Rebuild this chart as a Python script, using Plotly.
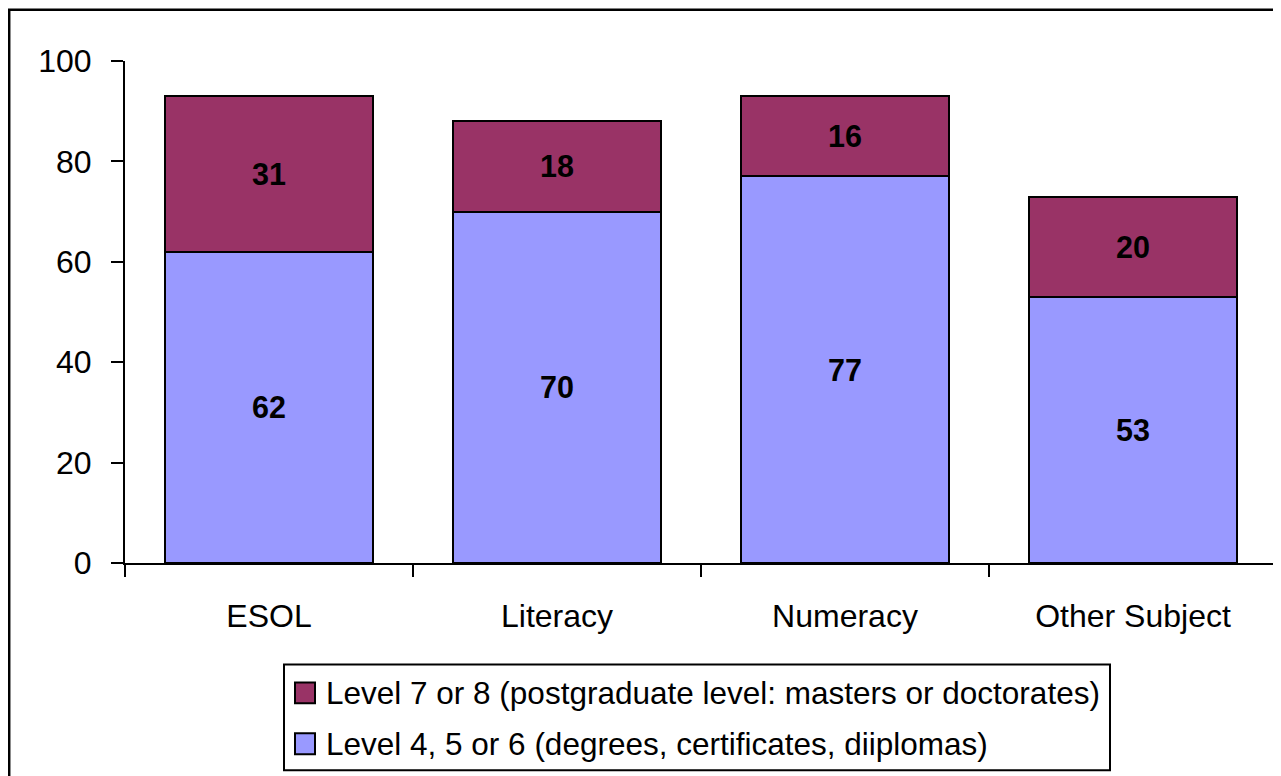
import plotly.graph_objects as go

categories = ["ESOL", "Literacy", "Numeracy", "Other Subject"]
level_4_6 = [62, 70, 77, 53]
level_7_8 = [31, 18, 16, 20]
name_4_6 = "Level 4, 5 or 6 (degrees, certificates, diiplomas)"
name_7_8 = "Level 7 or 8 (postgraduate level: masters or doctorates)"
y_ticks = [0, 20, 40, 60, 80, 100]

FONT = "Arial, Liberation Sans, sans-serif"
C_46 = "#9999FF"
C_78 = "#993366"

OFF = 8  # page body margin
W, H = 1281 - OFF, 776 - OFF
# plot area in screenshot coordinates: x 125..1277, y 61..563.5
L, T = 125 - OFF, 61 - OFF
R = W - (1277 - OFF)
B = H - (563.5 - OFF)
PW, PH = W - L - R, H - T - B


def px(x):
    return (x - OFF - L) / PW


def py(y):
    return (H - B - (y - OFF)) / PH


fig = go.Figure()
fig.add_trace(go.Bar(
    x=categories, y=level_4_6, name=name_4_6,
    marker=dict(color=C_46, line=dict(color="black", width=2)),
    text=level_4_6, texttemplate="<b>%{text}</b>", textposition="inside",
    insidetextanchor="middle", textfont=dict(size=30.5, color="black", family=FONT),
    width=0.72,
))
fig.add_trace(go.Bar(
    x=categories, y=level_7_8, name=name_7_8,
    marker=dict(color=C_78, line=dict(color="black", width=2)),
    text=level_7_8, texttemplate="<b>%{text}</b>", textposition="inside",
    insidetextanchor="middle", textfont=dict(size=30.5, color="black", family=FONT),
    width=0.72,
))

fig.update_layout(
    barmode="stack",
    width=W, height=H,
    margin=dict(l=L, r=R, t=T, b=B, autoexpand=False),
    paper_bgcolor="white", plot_bgcolor="white",
    font=dict(family=FONT, size=32, color="black"),
    showlegend=False,
)
fig.update_xaxes(
    range=[-0.5, 3.5], showline=True, linecolor="black", linewidth=2,
    ticks="outside", ticklen=12, tickwidth=2, tickcolor="black",
    tickson="boundaries", showgrid=False, ticklabelstandoff=24,
    tickfont=dict(size=32, family=FONT), automargin=False,
)
fig.update_yaxes(
    range=[0, 100], tickvals=y_ticks, showline=True, linecolor="black", linewidth=2,
    ticks="outside", ticklen=12, tickwidth=2, tickcolor="black",
    showgrid=False, zeroline=False, ticklabelstandoff=13,
    tickfont=dict(size=32, family=FONT), automargin=False,
)

# outer chart frame
fig.add_shape(type="rect", xref="paper", yref="paper",
              x0=px(9.2), y0=py(900), x1=px(1400), y1=py(9.8),
              line=dict(color="black", width=2.5), fillcolor="rgba(0,0,0,0)", layer="below")

# legend box
fig.add_shape(type="rect", xref="paper", yref="paper",
              x0=px(284), y0=py(771), x1=px(1110), y1=py(665),
              line=dict(color="black", width=2), fillcolor="white")
legend_items = [(name_7_8, C_78, 683, 704), (name_4_6, C_46, 734, 755)]
for name, col, ytop, ybot in legend_items:
    fig.add_shape(type="rect", xref="paper", yref="paper",
                  x0=px(295), y0=py(ybot), x1=px(315), y1=py(ytop),
                  line=dict(color="black", width=2), fillcolor=col)
    fig.add_annotation(xref="paper", yref="paper", x=px(324), y=py((ytop + ybot) / 2),
                       text=name, showarrow=False, xanchor="left", yanchor="middle",
                       font=dict(size=31.5, family=FONT, color="black"))

fig.write_html("out.html")
